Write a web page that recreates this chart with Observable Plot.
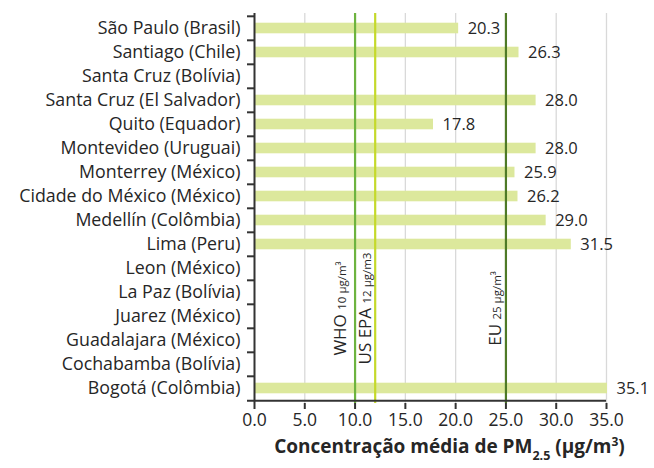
<!DOCTYPE html>
<html><head><meta charset="utf-8">
<script src="https://cdn.jsdelivr.net/npm/d3@7"></script>
<script src="https://cdn.jsdelivr.net/npm/@observablehq/plot@0.6"></script>
<style>
body{margin:0;background:#fff;}
#chart svg{font-family:"Open Sans",Lato,sans-serif;background:#fff;}
</style>
</head><body><div id="chart"></div>
<script>
const cities = [
  "São Paulo (Brasil)", "Santiago (Chile)", "Santa Cruz (Bolívia)", "Santa Cruz (El Salvador)",
  "Quito (Equador)", "Montevideo (Uruguai)", "Monterrey (México)", "Cidade do México (México)",
  "Medellín (Colômbia)", "Lima (Peru)", "Leon (México)", "La Paz (Bolívia)", "Juarez (México)",
  "Guadalajara (México)", "Cochabamba (Bolívia)", "Bogotá (Colômbia)"
];
const values = [20.3, 26.3, null, 28.0, 17.8, 28.0, 25.9, 26.2, 29.0, 31.5, null, null, null, null, null, 35.1];
const xTicks = [0, 5, 10, 15, 20, 25, 30, 35];
const guideNames = ["WHO", "US EPA", "EU"];
const guideValues = [10, 12, 25];
const guideUnits = ["10 µg/m³", "12 µg/m3", "25 µg/m³"];
const xLabelMain = "Concentração média de PM";
const xLabelSub = "2.5";
const xLabelUnit = " (µg/m";
const xLabelSup = "3";

const data = cities.map((city, i) => ({city, value: values[i]}));
const bars = data.filter(d => d.value != null);
const guides = guideNames.map((name, i) => ({name, value: guideValues[i], unit: guideUnits[i]}));

const W = 654, H = 468, mT = 13, mB = 65, mL = 254, mR = 48;
const step = (H - mT - mB) / cities.length;
const labelRow = cities[12];
const guideDx = [-9, -4, -5];
const textColor = "#262626";

const plot = Plot.plot({
  width: W, height: H,
  marginTop: mT, marginBottom: mB, marginLeft: mL, marginRight: mR,
  style: {fontSize: "17px", color: textColor},
  x: {domain: [0, 35]},
  y: {domain: cities, padding: 0},
  color: {domain: guideNames, range: ["#6db33f", "#c5d92b", "#4e7a27"]},
  marks: [
    Plot.ruleX(xTicks.filter(d => d > 0), {stroke: "#d9d9d9", strokeWidth: 1.3}),
    Plot.barX(bars, {x: "value", y: "city", fill: "#dce89c", insetTop: 6.7, insetBottom: 6.7}),
    ...guides.map((g, i) => Plot.ruleX([g], {x: "value", stroke: "name", strokeWidth: 2.2})),
    ...guides.map((g, i) => Plot.text([g], {
      x: "value", y: () => labelRow, dy: -8, dx: guideDx[i], rotate: -90,
      text: d => d.name + "|" + d.unit, textAnchor: "middle", lineAnchor: "bottom",
      fontSize: 17, fill: textColor
    })),
    Plot.text(bars, {x: "value", y: "city", text: d => d.value.toFixed(1), dx: 9, textAnchor: "start", fontSize: 16.5, fill: textColor}),
    Plot.axisY({tickSize: 0, tickPadding: 14, fontSize: 17.8, label: null}),
    Plot.tickY(cities, {dy: -step / 2, insetLeft: -7, insetRight: W - mL - mR, stroke: "#333", strokeWidth: 2}),
    Plot.ruleX([0], {stroke: "#333", strokeWidth: 2}),
    Plot.ruleY([cities[cities.length - 1]], {dy: step / 2, insetLeft: -7, stroke: "#333", strokeWidth: 2}),
    Plot.axisX({ticks: xTicks, tickFormat: d => d.toFixed(1), tickSize: 6, tickPadding: 4, fontSize: 17.5, label: null, stroke: "#333", strokeWidth: 2}),
    Plot.text([xLabelMain], {frameAnchor: "bottom", dx: 19, dy: 49, text: d => d, fontSize: 19, fontWeight: "bold", fill: textColor})
  ]
});

const svg = d3.select(plot);
svg.selectAll("text").each(function() {
  const t = d3.select(this);
  const s = this.textContent;
  if (s.includes("|")) {
    const [name, unit] = s.split("|");
    t.text(null);
    t.append("tspan").text(name + " ");
    t.append("tspan").attr("font-size", 11.5).text(unit);
  } else if (s === xLabelMain) {
    t.text(null);
    t.append("tspan").text(xLabelMain);
    t.append("tspan").attr("font-size", 12.5).attr("dy", 7).text(xLabelSub);
    t.append("tspan").attr("dy", -7).text(xLabelUnit);
    t.append("tspan").attr("font-size", 12).attr("dy", -7).text(xLabelSup);
    t.append("tspan").attr("dy", 7).text(")");
  }
});
document.getElementById("chart").append(plot);
</script>
</body></html>
